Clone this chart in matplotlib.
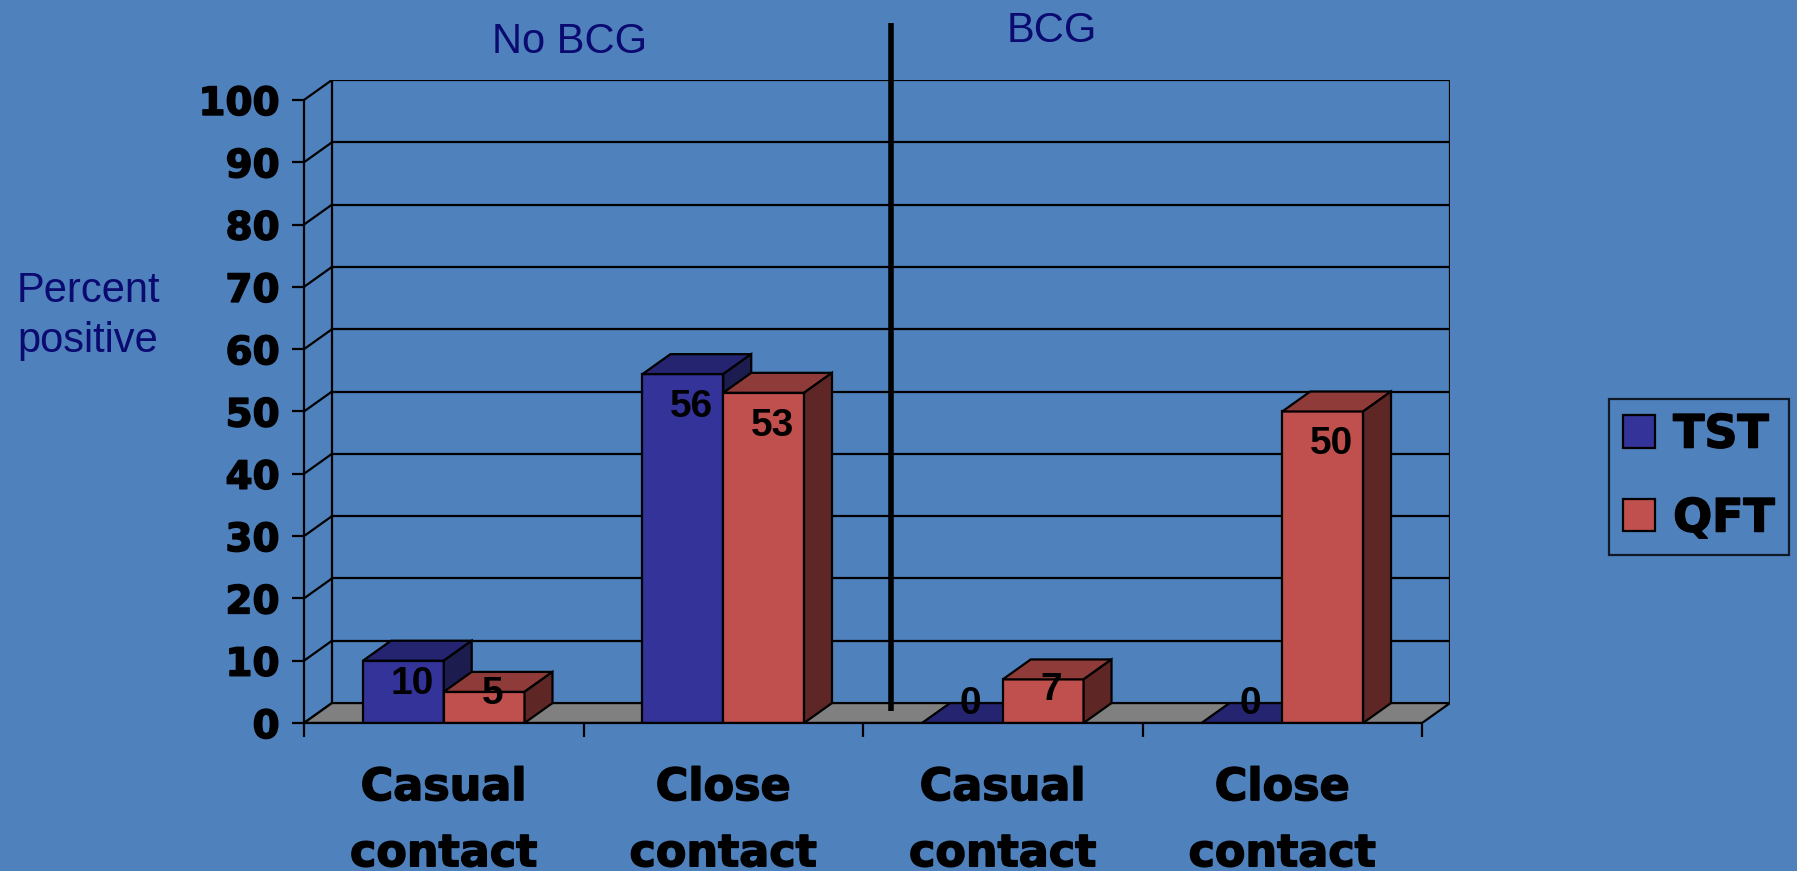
import numpy as np
import matplotlib
matplotlib.use("Agg")
import matplotlib.pyplot as plt
import matplotlib.patheffects as pe
from matplotlib.patches import Polygon, Patch

# ------------------- данные -------------------
categories = ["Casual\ncontact", "Close\ncontact", "Casual\ncontact", "Close\ncontact"]
series_names = ["TST", "QFT"]
tst = [10, 56, 0, 0]
qft = [5, 53, 7, 50]
group_titles = ["No BCG", "BCG"]
yticks = list(range(0, 101, 10))

# ------------------- стиль -------------------
BG = "#4F81BD"
TST_C = ("#333399", "#242470", "#1C1C4E")   # front / top / side
QFT_C = ("#C0504D", "#8E3B39", "#5E2726")
NAVY = "#0A0A70"
HEAVY = dict(family="DejaVu Sans", weight="bold")
THICK = [pe.withStroke(linewidth=1.1, foreground="k")]   # "жирнее" обычного bold

DX, DY = 0.1, 3.2     # смещение "глубины" псевдо-3D
W = 0.289             # ширина столбика в долях категории
LW = 1.6

fig = plt.figure(figsize=(17.97, 8.71), dpi=100, facecolor=BG)
ax = fig.add_axes([304 / 1797, 148 / 871, 1146 / 1797, 643 / 871])
ax.set_facecolor("none")
n = len(categories)
ax.set_xlim(0, n + DX)
ax.set_ylim(0, 100 + DY)

# задняя стенка и боковые диагонали
for v in yticks:
    ax.plot([0, DX], [v, v + DY], color="k", lw=LW, zorder=1)
    if v > 0:
        ax.plot([DX, n + DX], [v + DY, v + DY], color="k", lw=LW, zorder=1)
for xb in (DX, n + DX):
    ax.plot([xb, xb], [DY, 100 + DY], color="k", lw=LW, zorder=1)

# пол
ax.add_patch(Polygon([(0, 0), (n, 0), (n + DX, DY), (DX, DY)],
                     closed=True, fc="#808080", ec="k", lw=LW, zorder=2))


def box(x_left, h, cols, z):
    """Столбик: передняя грань через bar, верх и бок — полигонами."""
    ax.bar(x_left, h, W, align="edge", color=cols[0], edgecolor="k", lw=LW, zorder=z)
    top = [(x_left, h), (x_left + W, h), (x_left + W + DX, h + DY), (x_left + DX, h + DY)]
    side = [(x_left + W, 0), (x_left + W + DX, DY), (x_left + W + DX, h + DY), (x_left + W, h)]
    ax.add_patch(Polygon(top, closed=True, fc=cols[1], ec="k", lw=LW, zorder=z))
    ax.add_patch(Polygon(side, closed=True, fc=cols[2], ec="k", lw=LW, zorder=z))


xc = np.arange(n) + 0.5
z = 3
for i in range(n):
    box(xc[i] - W, tst[i], TST_C, z)
    box(xc[i], qft[i], QFT_C, z + 1)
    z += 2

# подписи значений
for vals, centers in ((tst, xc - W / 2), (qft, xc + W / 2)):
    for v, c in zip(vals, centers):
        drop = np.interp(v, [0, 10, 50], [-3.1, 3.7, 5.3])
        ax.text(c + 0.03, v - drop, str(v), ha="center", va="center",
                fontsize=28, weight="bold",
                family=["Liberation Sans Narrow", "Liberation Sans"], zorder=50)

# разделитель групп
ax.plot([2.1, 2.1], [1.9, 112.3], color="k", lw=4, clip_on=False,
        solid_capstyle="butt", zorder=40)

# оси
for s in ("top", "right"):
    ax.spines[s].set_visible(False)
ax.spines["left"].set_bounds(0, 100)
ax.spines["bottom"].set_bounds(0, n)
for s in ("left", "bottom"):
    ax.spines[s].set_linewidth(LW)
    ax.spines[s].set_zorder(30)

ax.set_yticks(yticks)
ax.set_yticklabels([str(t) for t in yticks], fontsize=28, **HEAVY)
ax.tick_params(axis="y", length=8.6, width=LW, pad=9)

ax.set_xticks(range(n + 1))
ax.set_xticklabels([])
ax.set_xticks(xc, minor=True)
ax.set_xticklabels(categories, minor=True, fontsize=32, linespacing=1.68, **HEAVY)
ax.tick_params(axis="x", which="major", length=10, width=LW)
ax.tick_params(axis="x", which="minor", length=0, pad=31)

for lbl in ax.get_yticklabels() + ax.get_xticklabels(minor=True):
    lbl.set_path_effects(THICK)

# подписи групп и оси Y
fig.text(570 / 1797, 1 - 42 / 871, group_titles[0], ha="center", va="center",
         fontsize=30, color=NAVY, family="Liberation Sans")
fig.text(1052 / 1797, 1 - 31 / 871, group_titles[1], ha="center", va="center",
         fontsize=30, color=NAVY, family="Liberation Sans")
fig.text(88 / 1797, 1 - 316 / 871, "Percent\npositive", ha="center", va="center",
         fontsize=30, color=NAVY, family="Liberation Sans", linespacing=1.33)

# легенда
handles = [Patch(fc=TST_C[0], ec="k", lw=LW), Patch(fc=QFT_C[0], ec="k", lw=LW)]
leg = fig.legend(handles, series_names, loc="center left",
                 bbox_to_anchor=(1609 / 1797, 1 - 477 / 871),
                 prop=dict(size=33, **HEAVY), frameon=True, fancybox=False,
                 edgecolor="k", facecolor="none", handlelength=0.7,
                 handleheight=0.7, handletextpad=0.4, borderpad=0.3,
                 labelspacing=0.85, borderaxespad=0)
leg.get_frame().set_linewidth(LW)
for t in leg.get_texts():
    t.set_path_effects(THICK)

fig.savefig("out.png", dpi=100, facecolor=BG)
